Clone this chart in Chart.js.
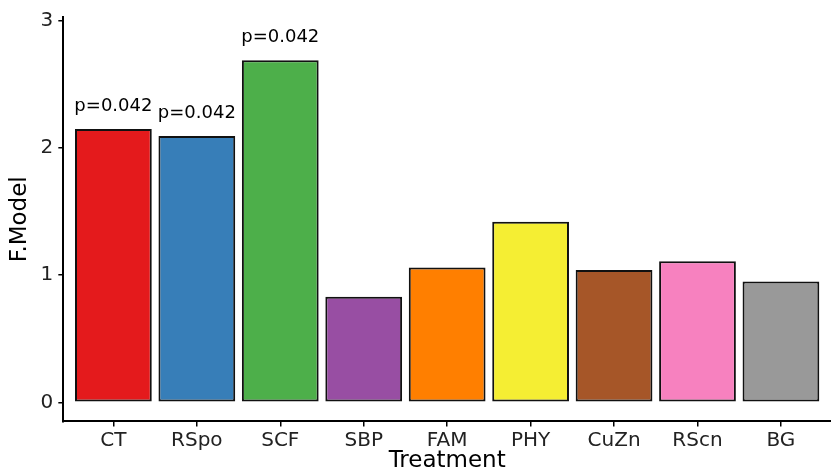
<!DOCTYPE html>
<html>
<head>
<meta charset="utf-8">
<script src="https://cdn.jsdelivr.net/npm/chart.js@4"></script>
<style>
  html, body { margin: 0; padding: 0; background: #fff; }
  #wrap { width: 831px; height: 475px; }
</style>
</head>
<body>
<div id="wrap"><canvas id="fmodel-chart"></canvas></div>
<script>
var treatments = ['CT', 'RSpo', 'SCF', 'SBP', 'FAM', 'PHY', 'CuZn', 'RScn', 'BG'];
var fModel = [2.15, 2.095, 2.69, 0.83, 1.06, 1.42, 1.04, 1.11, 0.95];
var pLabels = ['p=0.042', 'p=0.042', 'p=0.042', '', '', '', '', '', ''];
var barColors = ['#E41A1C', '#377EB8', '#4DAF4A', '#984EA3', '#FF7F00', '#F5EE33', '#A65628', '#F781BF', '#999999'];
var yTicks = [0, 1, 2, 3];

var fontFamily = "'DejaVu Sans', sans-serif";

// write the p values above the bars
var pLabelPlugin = {
    id: 'pLabels',
    afterDatasetsDraw: function(chart) {
        var ctx = chart.ctx;
        var meta = chart.getDatasetMeta(0);
        ctx.save();
        ctx.font = '18px ' + fontFamily;
        ctx.fillStyle = '#000';
        ctx.textAlign = 'center';
        ctx.textBaseline = 'bottom';
        meta.data.forEach(function(bar, i) {
            if (pLabels[i]) ctx.fillText(pLabels[i], bar.x, bar.y - 14);
        });
        ctx.restore();
    }
};

var points = treatments.map(function(t, i) { return { x: i, y: fModel[i] }; });

new Chart($id('fmodel-chart'), {
    type: 'bar',
    data: {
        datasets: [{
            data: points,
            backgroundColor: barColors,
            borderColor: '#111',
            borderWidth: 2,
            borderSkipped: false,
            barPercentage: 0.92,
            categoryPercentage: 1
        }]
    },
    options: {
        responsive: true,
        maintainAspectRatio: false,
        animation: false,
        layout: { padding: { top: 15, right: 0, left: 6, bottom: 0 } },
        plugins: { legend: { display: false }, tooltip: { enabled: false } },
        scales: {
            x: {
                type: 'linear',
                offset: false,
                min: -0.6,
                max: 8.6,
                afterBuildTicks: function(scale) {
                    scale.ticks = treatments.map(function(t, i) { return { value: i }; });
                },
                ticks: {
                    color: '#222',
                    font: { family: fontFamily, size: 20 },
                    padding: 2,
                    maxRotation: 0,
                    callback: function(v) { return treatments[v]; }
                },
                grid: { offset: false, drawOnChartArea: false, drawTicks: true, tickLength: 5, color: '#000', lineWidth: 1.5 },
                border: { color: '#000', width: 2 },
                title: {
                    display: true,
                    text: 'Treatment',
                    color: '#000',
                    font: { family: fontFamily, size: 23 },
                    padding: { top: -7, bottom: 0 }
                }
            },
            y: {
                min: -0.15,
                max: 3.03,
                afterBuildTicks: function(scale) {
                    scale.ticks = yTicks.map(function(v) { return { value: v }; });
                },
                ticks: {
                    color: '#222',
                    font: { family: fontFamily, size: 20 },
                    padding: 5
                },
                grid: { drawOnChartArea: false, drawTicks: true, tickLength: 5, color: '#000', lineWidth: 1.5 },
                border: { color: '#000', width: 2 },
                title: {
                    display: true,
                    text: 'F.Model',
                    color: '#000',
                    font: { family: fontFamily, size: 23 },
                    padding: { top: 0, bottom: 2 }
                }
            }
        }
    },
    plugins: [pLabelPlugin]
});

function $id(id) { return document.getElementById(id); }
</script>
</body>
</html>
